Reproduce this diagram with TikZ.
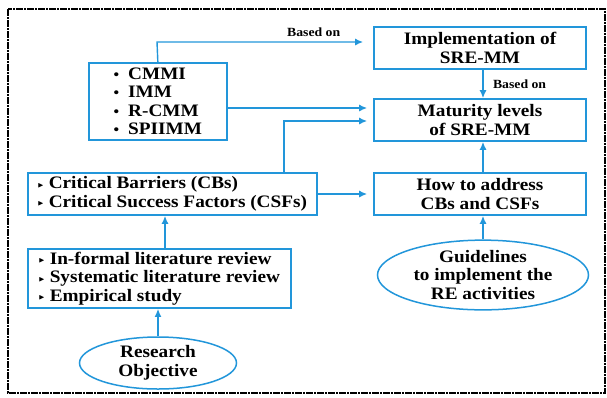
\documentclass[tikz,border=0pt]{standalone}
\usepackage{amssymb}
\usepackage{fontspec}
\setmainfont{Liberation Serif}[FakeStretch=1.1]
\usetikzlibrary{arrows.meta,shapes.geometric}
\definecolor{lineblue}{RGB}{34,150,218}
\newcommand{\tribul}{\raisebox{1.5pt}{\scriptsize$\blacktriangleright$}\ }
\newcommand{\dotbul}{{\Large\textbullet}\hspace*{9pt}}
\tikzset{
  stagebox/.style={draw=lineblue,line width=1.7pt,inner sep=3pt,align=center,
    font=\bfseries\fontsize{17.5}{18.5}\selectfont},
  listbox/.style={stagebox,align=left,anchor=west},
  goal/.style={draw=lineblue,line width=1.5pt,ellipse,inner sep=0pt,align=center,
    font=\bfseries\fontsize{17.5}{18.5}\selectfont},
  flow/.style={draw=lineblue,line width=1.4pt,-{Latex[length=8pt,width=7pt]}},
  basedon/.style={font=\bfseries\fontsize{12.5}{14}\selectfont}
}
\begin{document}
\begin{tikzpicture}[x=1pt,y=-1pt]
\useasboundingbox (0,0) rectangle (607,397);
\draw[line width=1.6pt,dash pattern=on 7pt off 1pt on 2pt off 1pt] (8,9) rectangle (605,393);

\node[stagebox,minimum width=138pt,minimum height=77pt,align=left,anchor=west] (models) at (88,101.5)
  {\dotbul CMMI\\ \dotbul IMM\\ \dotbul R-CMM\\ \dotbul SPIIMM};
\node[stagebox,minimum width=212pt,minimum height=42pt] (impl) at (480,48)
  {Implementation of\\ SRE-MM};
\node[stagebox,minimum width=212pt,minimum height=42pt] (levels) at (480,120)
  {Maturity levels\\ of SRE-MM};
\node[stagebox,minimum width=212pt,minimum height=42pt] (address) at (480,194)
  {How to address\\ CBs and CSFs};
\node[listbox,minimum width=289pt,minimum height=42pt] (barriers) at (27,194)
  {\tribul Critical Barriers (CBs)\\ \tribul Critical Success Factors (CSFs)};
\node[listbox,minimum width=263pt,minimum height=59pt] (review) at (27,278.5)
  {\tribul In-formal literature review\\ \tribul Systematic literature review\\ \tribul Empirical study};
\node[goal,minimum width=157pt,minimum height=52pt] (objective) at (158,363)
  {Research\\ Objective};
\node[goal,minimum width=211pt,minimum height=63pt] (guide) at (483,275)
  {Guidelines\\ to implement the\\ RE activities};

\draw[flow] (objective.north) -- (objective.north |- review.south);
\draw[flow] (review.north -| 165,0) -- (barriers.south -| 165,0);
\draw[flow] (barriers.east) -- ([xshift=-6pt]address.west);
\draw[flow] (guide.north) -- (guide.north |- address.south);
\draw[flow] (guide.north |- address.north) -- (guide.north |- levels.south);
\draw[flow] (guide.north |- impl.south) -- (guide.north |- levels.north)
  node[basedon,midway,right=6pt] {Based on};
\draw[flow] (models.north) -- (157,42) -- ([xshift=-10pt]impl.west |- 0,42)
  node[basedon,pos=0.76,above=1pt] {Based on};
\draw[flow] (models.east |- 0,108) -- ([xshift=-6pt]levels.west |- 0,108);
\draw[flow] (barriers.north -| 284,0) -- (284,121) -- ([xshift=-6pt]levels.west |- 0,121);
\end{tikzpicture}
\end{document}
